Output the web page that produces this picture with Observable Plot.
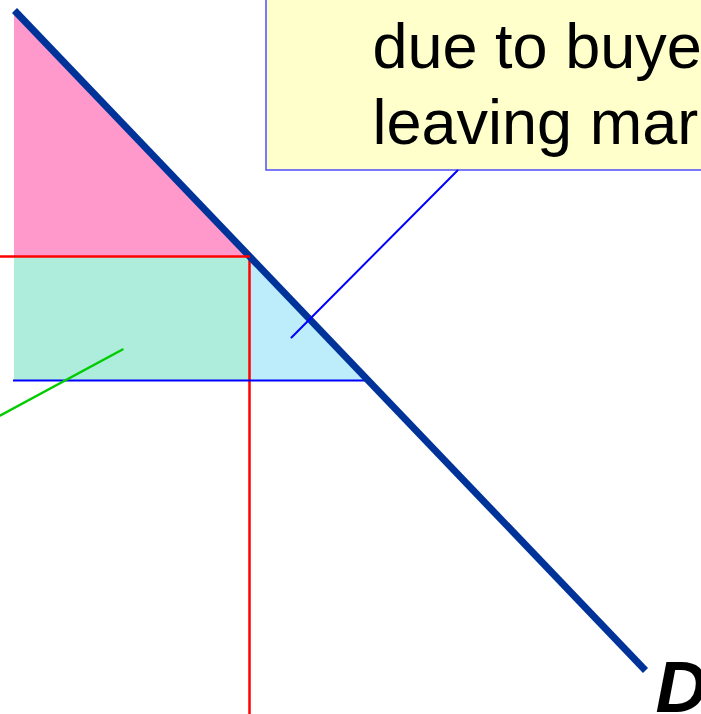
<!DOCTYPE html>
<html>
<head>
<meta charset="utf-8">
<script src="https://cdn.jsdelivr.net/npm/d3@7"></script>
<script src="https://cdn.jsdelivr.net/npm/@observablehq/plot@0.6"></script>
<style>
  html, body { margin: 0; padding: 0; background: #fff; overflow: hidden; }
  #chart svg { overflow: hidden; }
</style>
</head>
<body>
<div id="chart"></div>
<script>
// Model space: quantity (Q, rightwards) and price (P, upwards)
const demandQ = [14, 645];
const demandP = [704, 44];
const qStart = 14;         // left edge of shaded regions
const pMax = 704;          // choke price
const pBuyer = 458;        // price buyers pay (with tax)
const pBase = 334;         // lower price line
const qTax = 249;          // quantity with tax
const qFree = 368;         // quantity without tax
const calloutBox = {q1: 266, q2: 760, p1: 544, p2: 760};
const calloutLines = ["due to buyers", "leaving market"];
const calloutTextQ = 372, calloutTextP = 701;
const blueLeader = [{q: 291, p: 377}, {q: 457, p: 544}];
const greenLeader = [{q: 122, p: 365}, {q: -4, p: 297}];
const demandLabel = "D";
const demandLabelQ = 655, demandLabelP = 54;

const demand = demandQ.map((q, i) => ({q, p: demandP[i]}));
const pinkArea = [{q: qStart, p: pMax}, {q: qTax, p: pBuyer}];
const blueArea = [{q: qTax, p: pBuyer}, {q: qFree, p: pBase}];

const chart = Plot.plot({
  width: 701,
  height: 714,
  margin: 0,
  x: {domain: [0, 701], range: [0, 701], axis: null},
  y: {domain: [0, 714], range: [714, 0], axis: null},
  style: {background: "#fff", fontFamily: "'Liberation Sans', Arial, sans-serif"},
  marks: [
    Plot.areaY(pinkArea, {x: "q", y1: pBuyer, y2: "p", fill: "#ff99cc", fillOpacity: 1}),
    Plot.rect([{}], {x1: qStart, x2: qTax, y1: pBase, y2: pBuyer, fill: "#aeeddc"}),
    Plot.areaY(blueArea, {x: "q", y1: pBase, y2: "p", fill: "#bdecfb", fillOpacity: 1}),
    Plot.ruleX([qTax], {y1: 0, y2: pBuyer, stroke: "#ff0000", strokeWidth: 2.5}),
    Plot.ruleY([pBase], {x1: qStart - 1, x2: qFree, stroke: "#0000ff", strokeWidth: 2.2}),
    Plot.line(demand, {x: "q", y: "p", stroke: "#003399", strokeWidth: 7, strokeLinecap: "butt"}),
    Plot.ruleY([pBuyer], {x1: -5, x2: qTax + 1, stroke: "#ff0000", strokeWidth: 2.5}),
    Plot.rect([calloutBox], {x1: "q1", x2: "q2", y1: "p1", y2: "p2", fill: "#ffffcc", stroke: "#4d4dff", strokeWidth: 1.5}),
    Plot.text([calloutLines.join("\n")], {
      x: calloutTextQ, y: calloutTextP, text: d => d, textAnchor: "start", lineAnchor: "top",
      fontSize: 63, lineHeight: 1.21, fill: "#000"
    }),
    Plot.line(blueLeader, {x: "q", y: "p", stroke: "#0000ff", strokeWidth: 2}),
    Plot.line(greenLeader, {x: "q", y: "p", stroke: "#00cc00", strokeWidth: 2.5}),
    Plot.text([demandLabel], {
      x: demandLabelQ, y: demandLabelP, text: d => d, textAnchor: "start", lineAnchor: "top",
      fontSize: 72, fontWeight: "bold", fontStyle: "italic", fill: "#000"
    })
  ]
});
document.getElementById("chart").appendChild(chart);
</script>
</body>
</html>
